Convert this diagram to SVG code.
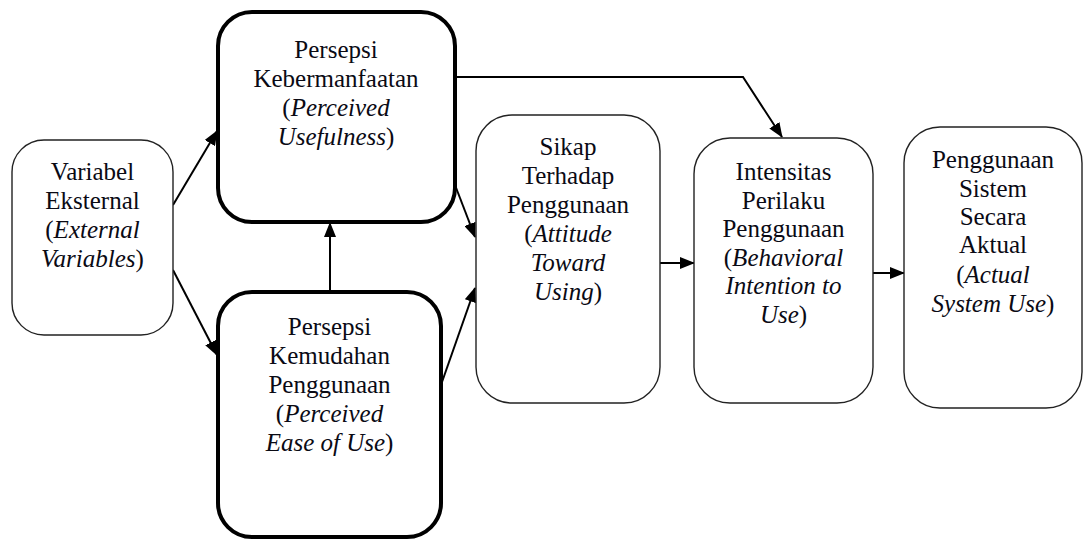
<svg xmlns="http://www.w3.org/2000/svg" width="1084" height="541" viewBox="0 0 1084 541">
<style>
.thin{fill:#fff;stroke:#222;stroke-width:1.4}
.thick{fill:#fff;stroke:#000;stroke-width:4}
.t{font-family:'Liberation Serif','Times New Roman',serif;font-size:25px;fill:#0a0a14;text-anchor:middle}
.i{font-style:italic}
.c{fill:none;stroke:#000;stroke-width:2;marker-end:url(#ah)}
</style>
<defs>
<marker id="ah" markerUnits="userSpaceOnUse" markerWidth="15" markerHeight="12" refX="14" refY="6" orient="auto">
<path d="M0,0 L15,6 L0,12 z" fill="#000"/>
</marker>
</defs>
<rect width="1084" height="541" fill="#fff"/>
<g id="connectors">
<path class="c" d="M173,205 L217,131"/>
<path class="c" d="M173,270 L217,355"/>
<path class="c" d="M330,292 L330,223"/>
<path class="c" d="M455,185 L475,237"/>
<path class="c" d="M442,382 L475,288"/>
<path class="c" d="M455,77 L743,77 L782,137"/>
<path class="c" d="M660,263 L694,263"/>
<path class="c" d="M873,273 L904,273"/>
</g>
<g id="n1">
<rect class="thin" x="12" y="140" width="161" height="195" rx="32"/>
<text class="t" x="92.5" y="180">Variabel</text>
<text class="t" x="92.5" y="209">Eksternal</text>
<text class="t" x="92.5" y="238">(<tspan class="i">External</tspan></text>
<text class="t" x="92.5" y="267"><tspan class="i">Variables</tspan>)</text>
</g>
<g id="n2">
<rect class="thick" x="218" y="12" width="237" height="210" rx="34"/>
<text class="t" x="336" y="58">Persepsi</text>
<text class="t" x="336" y="87">Kebermanfaatan</text>
<text class="t" x="336" y="116">(<tspan class="i">Perceived</tspan></text>
<text class="t" x="336" y="145"><tspan class="i">Usefulness</tspan>)</text>
</g>
<g id="n3">
<rect class="thick" x="218" y="292" width="223" height="245" rx="34"/>
<text class="t" x="329.5" y="335">Persepsi</text>
<text class="t" x="329.5" y="364">Kemudahan</text>
<text class="t" x="329.5" y="393">Penggunaan</text>
<text class="t" x="329.5" y="422">(<tspan class="i">Perceived</tspan></text>
<text class="t" x="329.5" y="451"><tspan class="i">Ease of Use</tspan>)</text>
</g>
<g id="n4">
<rect class="thin" x="476" y="115" width="184" height="288" rx="36"/>
<text class="t" x="568" y="155">Sikap</text>
<text class="t" x="568" y="184">Terhadap</text>
<text class="t" x="568" y="213">Penggunaan</text>
<text class="t" x="568" y="242">(<tspan class="i">Attitude</tspan></text>
<text class="t" x="568" y="271"><tspan class="i">Toward</tspan></text>
<text class="t" x="568" y="300"><tspan class="i">Using</tspan>)</text>
</g>
<g id="n5">
<rect class="thin" x="694" y="138" width="179" height="265" rx="36"/>
<text class="t" x="783.5" y="180">Intensitas</text>
<text class="t" x="783.5" y="208.5">Perilaku</text>
<text class="t" x="783.5" y="237">Penggunaan</text>
<text class="t" x="783.5" y="265.5">(<tspan class="i">Behavioral</tspan></text>
<text class="t" x="783.5" y="294"><tspan class="i">Intention to</tspan></text>
<text class="t" x="783.5" y="322.5"><tspan class="i">Use</tspan>)</text>
</g>
<g id="n6">
<rect class="thin" x="904" y="127" width="178" height="281" rx="36"/>
<text class="t" x="993" y="168">Penggunaan</text>
<text class="t" x="993" y="197">Sistem</text>
<text class="t" x="993" y="225">Secara</text>
<text class="t" x="993" y="253">Aktual</text>
<text class="t" x="993" y="283">(<tspan class="i">Actual</tspan></text>
<text class="t" x="993" y="312"><tspan class="i">System Use</tspan>)</text>
</g>
</svg>
